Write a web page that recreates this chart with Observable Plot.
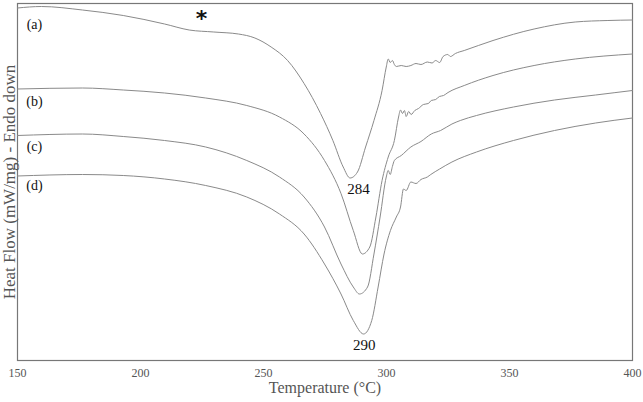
<!DOCTYPE html>
<html><head><meta charset="utf-8">
<script src="https://cdn.jsdelivr.net/npm/d3@7"></script>
<script src="https://cdn.jsdelivr.net/npm/@observablehq/plot@0.6"></script>
<style>body{margin:0;background:#fff}</style>
</head><body><div id="chart"></div>
<script>
// Temperature (°C) and heat flow (arbitrary mW/mg offsets)
const tempA = [150,159.7,176.4,193,209.8,219.8,229.8,239.8,246.5,253.1,259.8,266.5,273.2,278.2,282.4,285.2,288.2,291.5,294.9,298.2,299.9,300.7,301.5,302.4,303.2,304,306,308,309.9,312,314,316.6,318.5,320,321.6,323,324.9,326,328,331.6,343.3,360,376.7,390,400];
const flowA = [7.05,7.08,7.01,6.90,6.73,6.61,6.57,6.53,6.45,6.27,6.00,5.54,4.94,4.40,3.87,3.65,3.77,4.27,4.80,5.40,5.87,6.03,5.96,6.00,5.92,5.88,5.90,5.88,5.90,5.94,5.92,5.97,5.95,6.00,5.96,6.08,6.12,6.08,6.14,6.20,6.40,6.63,6.77,6.80,6.81];

const tempB = [150,176.4,193,209.8,226.5,243.2,256.5,266.5,274.8,281.5,286.5,290.2,293.2,295.7,298.2,300.7,303.2,304.9,305.7,306.5,307.3,308,309,310,311.5,313,315,317,318.2,320,321.5,323.2,325,331.6,343.3,360,376.7,400];
const flowB = [5.43,5.45,5.41,5.35,5.25,5.10,4.87,4.53,4.00,3.34,2.60,2.13,2.27,2.87,3.60,4.07,4.40,4.87,5.01,4.94,5.00,4.88,4.98,4.92,5.00,5.04,5.12,5.14,5.20,5.22,5.28,5.30,5.36,5.50,5.70,5.90,6.03,6.13];

const tempC = [150,176.4,193,209.8,226.5,243.2,256.5,266.5,274.8,281.5,286.5,289,292.3,294.9,297.4,299.9,300.7,301.5,302.4,303.2,306,309.9,314,318.2,322,326.6,330,336.6,351.6,368.3,385,400];
const flowC = [4.50,4.53,4.48,4.40,4.27,4.00,3.67,3.27,2.67,1.93,1.47,1.33,1.47,2.13,2.87,3.67,3.80,3.72,3.88,4.00,4.10,4.27,4.38,4.53,4.60,4.73,4.80,4.90,5.07,5.21,5.31,5.40];

const tempD = [150,176.4,193,209.8,226.5,243.2,256.5,266.5,274.8,281.5,286.5,290.7,294,296.6,299,301.6,304,305.7,306.9,308,309.9,312,314,316.6,318,321.6,326.6,336.6,351.6,368.3,385,400];
const flowD = [3.69,3.72,3.70,3.63,3.50,3.27,2.93,2.53,1.93,1.33,0.80,0.53,0.80,1.47,2.13,2.60,2.87,3.07,3.43,3.40,3.57,3.54,3.62,3.67,3.72,3.83,3.97,4.17,4.40,4.60,4.75,4.85];

const xTicks = [150,200,250,300,350,400];

const curveLabels = ["(a)","(b)","(c)","(d)"];
const curveLabelT = [156.9,156.9,156.9,156.9];
const curveLabelFlow = [6.72,5.18,4.28,3.50];

const peakLabels = ["284","290"];
const peakLabelT = [288.6,291];
const peakLabelFlow = [3.42,0.30];

const starT = [224.8];
const starFlow = [6.84];

const series = [
  {id:"a", t:tempA, f:flowA},
  {id:"b", t:tempB, f:flowB},
  {id:"c", t:tempC, f:flowC},
  {id:"d", t:tempD, f:flowD}
];
const rows = series.flatMap(s => s.t.map((t,i) => ({series:s.id, T:t, F:s.f[i]})));
const curveRows = curveLabels.map((l,i)=>({label:l, T:curveLabelT[i], F:curveLabelFlow[i]}));
const peakRows = peakLabels.map((l,i)=>({label:l, T:peakLabelT[i], F:peakLabelFlow[i]}));
const starRows = starT.map((t,i)=>({label:"*", T:t, F:starFlow[i]}));

const chart = Plot.plot({
  width: 643, height: 402,
  marginTop: 3, marginBottom: 42, marginLeft: 17, marginRight: 11,
  style: {fontFamily: "'Liberation Serif', 'DejaVu Serif', serif", background: "white"},
  x: {domain: [150, 400]},
  y: {domain: [0, 7.14], axis: null},
  marks: [
    Plot.frame({stroke: "#777", strokeWidth: 1.2}),
    Plot.axisX({ticks: xTicks, tickSize: 0, tickPadding: 8, fontSize: 12, color: "#555", label: null}),
    Plot.text(["Temperature (°C)"], {frameAnchor: "bottom", dy: 32, fontSize: 16, fill: "#555"}),
    Plot.text(["Heat Flow (mW/mg) - Endo down"], {frameAnchor: "left", textAnchor: "middle", rotate: -90, dx: -8, fontSize: 17, fill: "#555"}),
    Plot.line(rows, {x: "T", y: "F", z: "series", stroke: "#8a8a8a", strokeWidth: 1, curve: "monotone-x"}),
    Plot.text(curveRows, {x: "T", y: "F", text: "label", fontSize: 14, fill: "#111"}),
    Plot.text(peakRows, {x: "T", y: "F", text: "label", fontSize: 15, fill: "#111"}),
    Plot.text(starRows, {x: "T", y: "F", text: "label", fontSize: 22, fontWeight: "bold", fill: "#111", fontFamily: "'DejaVu Sans', sans-serif"})
  ]
});
document.getElementById("chart").appendChild(chart);
</script>
</body></html>
